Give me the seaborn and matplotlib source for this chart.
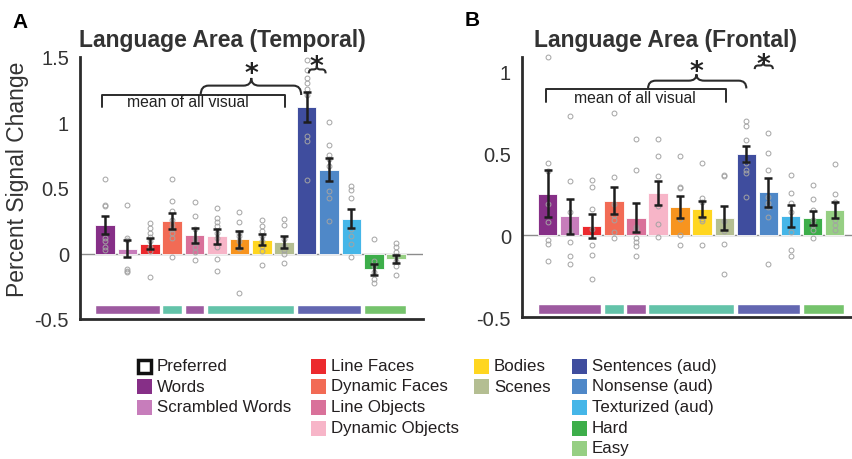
import numpy as np
import pandas as pd
import matplotlib.pyplot as plt
import seaborn as sns
from matplotlib.patches import Rectangle, PathPatch
from matplotlib.path import Path
from matplotlib.ticker import FormatStrFormatter

# conditions (the orange one has no legend entry in the figure)
conditions = ["Words", "Scrambled Words", "Line Faces", "Dynamic Faces", "Line Objects",
              "Dynamic Objects", "Line Bodies", "Bodies", "Scenes",
              "Sentences (aud)", "Nonsense (aud)", "Texturized (aud)", "Hard", "Easy"]
colors = ["#862F87", "#C77DBB", "#EC2A2E", "#F26B55", "#D9719A",
          "#F7B5C8", "#F7941F", "#FFD620", "#B4BE92",
          "#3F4D9E", "#4F88C8", "#45B6E8", "#3DAE4A", "#96CF83"]

# Language Area (Temporal)
temporal_mean = [0.216, 0.038, 0.076, 0.25, 0.14, 0.132, 0.107, 0.105, 0.087, 1.12, 0.64, 0.265, -0.12, -0.043]
temporal_sem = [0.07, 0.063, 0.041, 0.062, 0.057, 0.058, 0.068, 0.041, 0.043, 0.113, 0.087, 0.072, 0.043, 0.032]
temporal_subj = [
    [0.565, 0.371, 0.366, 0.117, 0.092, 0.046, 0.028],
    [0.371, 0.117, 0.104, -0.12, -0.132, -0.145],
    [0.23, 0.196, 0.16, 0.127, 0.092, 0.053, 0.02, -0.176],
    [0.567, 0.397, 0.323, 0.257, 0.219, 0.186, 0.155, 0.117, -0.03],
    [0.39, 0.29, 0.186, 0.115, 0.084, 0.046, 0.008, -0.048],
    [0.35, 0.27, 0.24, 0.21, 0.16, 0.12, 0.046, -0.043, -0.132],
    [0.318, 0.24, 0.16, 0.13, 0.092, 0.04, -0.30],
    [0.257, 0.21, 0.173, 0.13, 0.092, 0.058, 0.02, -0.087],
    [0.267, 0.22, 0.11, 0.058, 0.028, -0.005, -0.07],
    [1.476, 1.40, 1.34, 1.30, 1.255, 1.21, 0.90, 0.86, 0.56],
    [1.005, 0.827, 0.75, 0.725, 0.67, 0.478, 0.425, 0.25],
    [0.517, 0.486, 0.427, 0.186, 0.135, 0.07, -0.025],
    [0.11, -0.056, -0.094, -0.145, -0.196, -0.226],
    [0.08, 0.046, 0.015, -0.018, -0.06, -0.094, -0.163],
]

# Language Area (Frontal)
frontal_mean = [0.255, 0.116, 0.057, 0.212, 0.108, 0.257, 0.173, 0.159, 0.104, 0.494, 0.263, 0.118, 0.106, 0.153]
frontal_sem = [0.142, 0.106, 0.072, 0.083, 0.09, 0.073, 0.069, 0.049, 0.073, 0.049, 0.088, 0.065, 0.041, 0.05]
frontal_subj = [
    [1.09, 0.443, 0.394, 0.194, 0.078, -0.031, -0.051, -0.157],
    [0.729, 0.33, 0.143, 0.027, -0.04, -0.127, -0.178],
    [0.337, 0.296, 0.163, 0.041, -0.061, -0.118, -0.27],
    [0.749, 0.357, 0.19, 0.122, 0.092, 0.02, -0.016],
    [0.586, 0.398, 0.051, 0.031, -0.016, -0.041, -0.065, -0.129],
    [0.59, 0.484, 0.361, 0.178, 0.067, -0.012],
    [0.484, 0.296, 0.286, 0.102, 0.004, -0.061],
    [0.439, 0.229, 0.204, 0.102, 0.086, -0.061],
    [0.367, 0.361, 0.086, 0.027, -0.055, -0.235],
    [0.7, 0.665, 0.582, 0.439, 0.398, 0.378, 0.233],
    [0.627, 0.5, 0.398, 0.231, 0.2, 0.173, 0.112, -0.178],
    [0.367, 0.261, 0.198, 0.143, 0.02, -0.092, -0.129],
    [0.306, 0.22, 0.157, 0.092, 0.065, 0.035, -0.016],
    [0.435, 0.255, 0.204, 0.092, 0.061, 0.035],
]

# category strips under the bars: (first bar, last bar, colour)
strip_groups = [(0, 2, "#9D5AA0"), (3, 3, "#63C3A9"), (4, 4, "#9D5AA0"),
                (5, 8, "#63C3A9"), (9, 11, "#6367B1"), (12, 13, "#75C36C")]

legend_columns = [["Preferred", "Words", "Scrambled Words"],
                  ["Line Faces", "Dynamic Faces", "Line Objects", "Dynamic Objects"],
                  ["Bodies", "Scenes"],
                  ["Sentences (aud)", "Nonsense (aud)", "Texturized (aud)", "Hard", "Easy"]]

sns.set_style("white")
plt.rcParams["font.family"] = ["Liberation Sans", "DejaVu Sans"]
plt.rcParams["axes.unicode_minus"] = False
dark = "#2b2b2b"

W, H = 853, 460
fig = plt.figure(figsize=(W / 100, H / 100), dpi=100)
axA = fig.add_axes([80 / W, 1 - 320 / H, 343 / W, 262 / H])
axB = fig.add_axes([522 / W, 1 - 318 / H, 348 / W, 260 / H])


def brace(ax, x0, x1, xm, y0, h, d=0.35):
    ym = y0 + h * 0.55
    verts = [(x0, y0), (x0, ym), (x0 + d, ym), (xm - d, ym), (xm, ym), (xm, y0 + h),
             (xm, ym), (xm + d, ym), (x1 - d, ym), (x1, ym), (x1, y0)]
    codes = [Path.MOVETO, Path.CURVE3, Path.CURVE3, Path.LINETO, Path.CURVE3, Path.CURVE3,
             Path.CURVE3, Path.CURVE3, Path.LINETO, Path.CURVE3, Path.CURVE3]
    ax.add_patch(PathPatch(Path(verts, codes), fill=False, lw=1.5, ec=dark, clip_on=False, zorder=6))


def panel(ax, means, sems, subj, ylim, xlim, strip_y, yticks):
    df = pd.DataFrame({"condition": conditions, "psc": means})
    sns.barplot(data=df, x="condition", y="psc", hue="condition", order=conditions,
                hue_order=conditions, palette=colors, saturation=1, width=0.88, errorbar=None,
                legend=False, edgecolor="white", linewidth=0.6, ax=ax, zorder=2)
    ax.axhline(0, color="#8c8c8c", lw=1, zorder=1)
    for i, vals in enumerate(subj):
        ax.plot([i] * len(vals), vals, "o", mfc="none", mec="#a3a3a3", ms=3.5, mew=0.7,
                zorder=3, clip_on=False)
    ax.errorbar(np.arange(len(means)), means, yerr=sems, fmt="none", ecolor="#1e1e1e",
                elinewidth=1.8, capsize=3, capthick=1.8, zorder=4)
    for s, e, c in strip_groups:
        ax.broken_barh([(s - 0.44, e - s + 0.88)], (strip_y[0], strip_y[1] - strip_y[0]),
                       facecolors=c, zorder=2)
    ax.set_ylim(*ylim)
    ax.set_xlim(*xlim)
    ax.set_xticks([-1, 4, 9, 14])
    ax.set_xticklabels([])
    ax.set_yticks(yticks)
    ax.yaxis.set_major_formatter(FormatStrFormatter("%g"))
    ax.set_xlabel("")
    ax.set_ylabel("")
    sns.despine(ax=ax)
    for sp in ["left", "bottom"]:
        ax.spines[sp].set_color(dark)
        ax.spines[sp].set_linewidth(2)
    ax.tick_params(direction="in", length=5, width=1.5, color=dark, labelsize=14.5,
                   labelcolor="#333333", pad=8)


panel(axA, temporal_mean, temporal_sem, temporal_subj, (-0.5, 1.5), (-1.12, 14.2),
      (-0.46, -0.39), [-0.5, 0, 0.5, 1, 1.5])
panel(axB, frontal_mean, frontal_sem, frontal_subj, (-0.5, 1.09), (-1.16, 14.6),
      (-0.48, -0.42), [-0.5, 0, 0.5, 1])

star = dict(ha="center", va="center", fontsize=19, fontweight="bold", color="#222",
            family="DejaVu Sans")
note = dict(ha="center", va="center", fontsize=11.3, color="#222")

# annotations, panel A
axA.plot([-0.13, -0.13, 8.05, 8.05], [1.115, 1.21, 1.21, 1.115], color=dark, lw=1.4, clip_on=False)
axA.text(3.7, 1.16, "mean of all visual", **note)
brace(axA, 4.27, 8.76, 6.53, 1.21, 0.13)
axA.text(6.53, 1.37, "*", **star)
brace(axA, 9.1, 9.85, 9.46, 1.375, 0.055, d=0.15)
axA.text(9.46, 1.425, "*", **star)

# annotations, panel B
axB.plot([-0.08, -0.08, 8.1, 8.1], [0.812, 0.894, 0.894, 0.812], color=dark, lw=1.4, clip_on=False)
axB.text(3.95, 0.843, "mean of all visual", **note)
brace(axB, 4.55, 9.0, 6.74, 0.898, 0.086)
axB.text(6.74, 1.0, "*", **star)
brace(axB, 9.38, 10.2, 9.76, 1.016, 0.04, d=0.15)
axB.text(9.76, 1.04, "*", **star)

# titles, panel letters, y label
fig.text(12 / W, 1 - 22 / H, "A", fontsize=15, fontweight="bold", va="center", color="black")
fig.text(465 / W, 1 - 20 / H, "B", fontsize=15, fontweight="bold", va="center", color="black")
fig.text(222 / W, 1 - 41 / H, "Language Area (Temporal)", fontsize=16.5, fontweight="bold",
         ha="center", va="center", color="#333333")
fig.text(666 / W, 1 - 41 / H, "Language Area (Frontal)", fontsize=16.5, fontweight="bold",
         ha="center", va="center", color="#333333")
fig.text(18 / W, 1 - 179 / H, "Percent Signal Change", rotation=90, fontsize=16.5,
         ha="center", va="center", color="#333333")

# legend
color_of = dict(zip(conditions, colors))
col_x = [137, 311, 474, 572]
row_y = [367, 387, 408, 429, 449]
for cx, names in zip(col_x, legend_columns):
    for ry, name in zip(row_y, names):
        if name == "Preferred":
            fig.patches.append(Rectangle(((cx + 1) / W, 1 - (ry + 6.5) / H), 13 / W, 13 / H,
                                         transform=fig.transFigure, facecolor="white",
                                         edgecolor="#111111", lw=2.5))
        else:
            fig.patches.append(Rectangle((cx / W, 1 - (ry + 7.5) / H), 15 / W, 15 / H,
                                         transform=fig.transFigure, facecolor=color_of[name],
                                         edgecolor="none"))
        fig.text((cx + 20) / W, 1 - ry / H, name, fontsize=12.2, va="center", ha="left",
                 color="#231F20")

fig.savefig("out.png", dpi=100)
